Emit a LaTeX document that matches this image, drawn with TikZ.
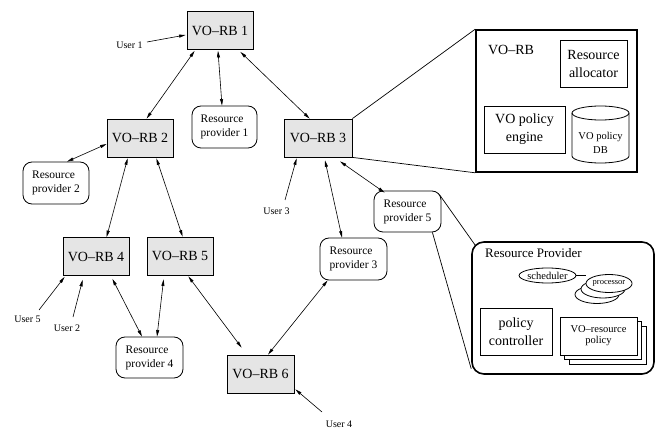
\documentclass[tikz,border=0pt]{standalone}
\usepackage{fontspec}
\setmainfont{Liberation Serif}
\usetikzlibrary{arrows.meta,calc,shapes.geometric}
\begin{document}
\begin{tikzpicture}[x=1pt,y=-1pt,
  rb/.style={draw, fill=gray!20, line width=0.8pt, minimum width=66pt, minimum height=38pt, inner sep=0pt, font=\fontsize{14}{17}\selectfont},
  rp/.style={draw, rounded corners=9pt, line width=0.8pt, minimum width=66pt, minimum height=42pt, inner sep=0pt, align=left, font=\fontsize{11.5}{14}\selectfont},
  usr/.style={inner sep=0pt, font=\fontsize{10}{12}\selectfont},
  tip/.tip={Triangle[length=6.5pt,width=3pt]},
  link/.style={line width=0.6pt, tip-tip},
  ulink/.style={line width=0.6pt, -tip},
  zline/.style={line width=0.7pt},
  panel/.style={draw, line width=1.6pt, inner sep=0pt},
  bigbox/.style={draw, fill=white, line width=0.8pt, inner sep=0pt, align=center, font=\fontsize{14}{18}\selectfont},
  smallbox/.style={draw, fill=white, line width=0.8pt, inner sep=0pt, align=center, font=\fontsize{10.5}{11}\selectfont},
  lbl/.style={inner sep=0pt, font=\fontsize{14}{17}\selectfont}
]
\useasboundingbox (0,0) rectangle (663,435);

% VO-RB nodes
\node[rb] (rb1) at (220,30.5) {VO--RB 1};
\node[rb] (rb2) at (140,138) {VO--RB 2};
\node[rb, minimum width=68pt] (rb3) at (318,138) {VO--RB 3};
\node[rb] (rb4) at (96,256.5) {VO--RB 4};
\node[rb] (rb5) at (180,256) {VO--RB 5};
\node[rb, minimum width=67pt] (rb6) at (260.5,374) {VO--RB 6};

% resource providers
\node[rp, minimum width=65pt] (rp1) at (224.5,127) {Resource\\provider 1};
\node[rp] (rp2) at (56,183) {Resource\\provider 2};
\node[rp, minimum width=67pt] (rp3) at (353.5,259) {Resource\\provider 3};
\node[rp, minimum width=67pt, minimum height=41pt] (rp4) at (149.5,357.5) {Resource\\provider 4};
\node[rp, minimum width=67pt, minimum height=41pt] (rp5) at (407.5,211.5) {Resource\\provider 5};

% users
\node[usr] (u1) at (129.5,45) {User 1};
\node[usr] (u2) at (67,328) {User 2};
\node[usr] (u3) at (276.5,211) {User 3};
\node[usr] (u4) at (339,424) {User 4};
\node[usr] (u5) at (27.5,319) {User 5};

% links
\draw[link] ($(rb1.south west)+(8,1)$) -- ($(rb2.north west)+(40,0)$);
\draw[link] ($(rb1.south)+(-2,1)$) -- ($(rp1.north)+(-2.5,0)$);
\draw[link] ($(rb1.south east)+(-13,2)$) -- ($(rb3.north west)+(26,0)$);
\draw[link] ($(rb2.west)+(0,6)$) -- ($(rp2.north)+(11,0)$);
\draw[link] ($(rb2.south west)+(21,1)$) -- ($(rb4.north west)+(44,0)$);
\draw[link] ($(rb2.south east)+(-17,1)$) -- ($(rb5.north west)+(36,0)$);
\draw[link] ($(rb4.south east)+(-17,3)$) -- ($(rp4.north)+(-7.5,0)$);
\draw[link] ($(rb5.south west)+(17,4)$) -- ($(rp4.north)+(7.5,0)$);
\draw[link] ($(rb5.south east)+(-25,1)$) -- ($(rb6.north west)+(15,-7)$);
\draw[link] ($(rb6.north)+(7.5,0)$) -- ($(rp3.south west)+(8,0)$);
\draw[link] ($(rb3.south)+(7,3)$) -- ($(rp3.north)+(-11.5,0)$);
\draw[link] ($(rb3.south)+(22,4)$) -- ($(rp5.north west)+(11,2)$);

% user arrows
\draw[ulink] ($(u1)+(17.5,-3)$) -- ($(rb1.west)+(-1,4.5)$);
\draw[ulink] ($(u5)+(11.5,-9)$) -- ($(rb4.south west)+(2,1)$);
\draw[ulink] ($(u2)+(6,-11)$) -- ($(rb4.south west)+(20,4)$);
\draw[ulink] ($(u3)+(8.5,-11)$) -- ($(rb3.south west)+(13,1)$);
\draw[ulink] ($(u4)+(-17,-12)$) -- ($(rb6.south east)+(1,-4)$);

% VO-RB detail panel
\node[panel, minimum width=161pt, minimum height=142pt] (vop) at (556.5,101) {};
\draw[zline] (rb3.north east) -- (vop.north west);
\draw[zline] (rb3.south east) -- (vop.south west);
\node[lbl] (vol) at (511,50) {VO--RB};
\node[bigbox, minimum width=67pt, minimum height=47pt] (ralloc) at (593.5,63.5) {Resource\\allocator};
\node[bigbox, minimum width=81pt, minimum height=47pt] (vpe) at (524.5,129.5) {VO policy\\engine};
\draw[line width=0.8pt] (572,113) -- (572,156) arc[start angle=180, end angle=360, x radius=28.5pt, y radius=7pt] -- (629,113);
\draw[line width=0.8pt] (600.5,113) ellipse [x radius=28.5pt, y radius=7pt];
\node[inner sep=0pt, align=center, font=\fontsize{10.5}{14}\selectfont] (vdb) at (600.5,143) {VO policy\\DB};

% Resource provider detail panel
\node[panel, rounded corners=12pt, minimum width=182pt, minimum height=132pt] (rpp) at (563,308) {};
\draw[zline] ($(rp5.north east)+(-2,4)$) -- ($(rpp.north west)+(4,4)$);
\draw[zline] ($(rp5.south east)+(-9,0)$) -- ($(rpp.south west)+(0,-6)$);
\node[inner sep=0pt, anchor=west, font=\fontsize{13}{15}\selectfont] (rpl) at (485,253) {Resource Provider};
\node[draw, ellipse, line width=0.8pt, minimum width=53pt, minimum height=15pt, inner sep=0pt, font=\fontsize{10.5}{12}\selectfont] (sch) at (547.5,275.5) {scheduler};
\node[draw, ellipse, fill=white, line width=0.8pt, minimum width=44pt, minimum height=18pt, inner sep=0pt] (procb) at (597,294.5) {};
\node[draw, ellipse, fill=white, line width=0.8pt, minimum width=44pt, minimum height=18pt, inner sep=0pt] (procm) at (603,289) {};
\node[draw, ellipse, fill=white, line width=0.8pt, minimum width=44pt, minimum height=18pt, inner sep=0pt, font=\fontsize{8.5}{10}\selectfont] (procf) at (609,283.5) {processor};
\draw[line width=0.8pt] (sch.east) -- (sch.east -| procf.west);
\node[bigbox, minimum width=72pt, minimum height=47pt] (pc) at (516,331.5) {policy\\controller};
\node[smallbox, minimum width=77pt, minimum height=38pt] (vrb) at (607.5,345) {};
\node[smallbox, minimum width=77pt, minimum height=38pt] (vrm) at (603,340.5) {};
\node[smallbox, minimum width=77pt, minimum height=38pt] (vrf) at (598.5,336) {VO--resource\\policy};
\end{tikzpicture}
\end{document}
